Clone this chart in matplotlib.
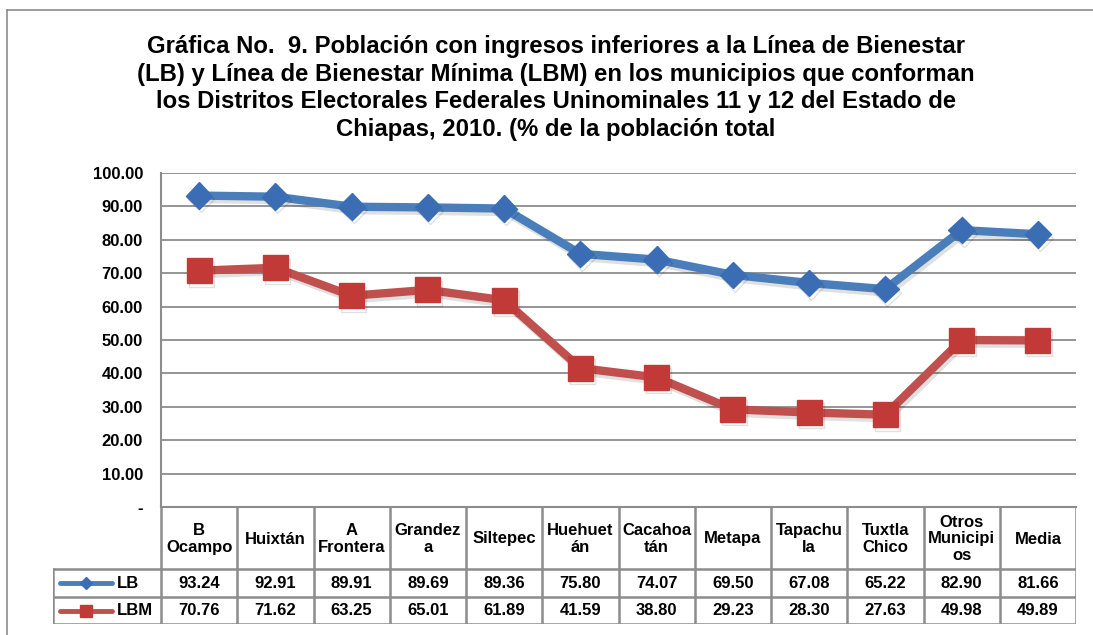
import matplotlib
matplotlib.use("Agg")
import matplotlib.pyplot as plt
import matplotlib.patheffects as pe
from matplotlib.lines import Line2D

plt.rcParams["font.family"] = ["Liberation Sans", "DejaVu Sans"]
plt.rcParams["font.weight"] = "bold"

TITLE = ("Gráfica No.  9. Población con ingresos inferiores a la Línea de Bienestar\n"
         "(LB) y Línea de Bienestar Mínima (LBM) en los municipios que conforman\n"
         "los Distritos Electorales Federales Uninominales 11 y 12 del Estado de\n"
         "Chiapas, 2010. (% de la población total")

municipios = ["B\nOcampo", "Huixtán", "A\nFrontera", "Grandez\na", "Siltepec",
              "Huehuet\nán", "Cacahoa\ntán", "Metapa", "Tapachu\nla", "Tuxtla\nChico",
              "Otros\nMunicipi\nos", "Media"]
lb = [93.24, 92.91, 89.91, 89.69, 89.36, 75.80, 74.07, 69.50, 67.08, 65.22, 82.90, 81.66]
lbm = [70.76, 71.62, 63.25, 65.01, 61.89, 41.59, 38.80, 29.23, 28.30, 27.63, 49.98, 49.89]
yticks = [0, 10, 20, 30, 40, 50, 60, 70, 80, 90, 100]
ytick_labels = ["-"] + [f"{v:.2f}" for v in yticks[1:]]

BLUE_LINE = "#4a7ebb"
BLUE_MARK = "#3a6db4"
RED_LINE = "#c0504d"
RED_MARK = "#c13a37"
GRID = "#8c8c8c"
FS = 12

W, H = 1093, 635
fig = plt.figure(figsize=(W / 100, H / 100), dpi=100)
fig.patch.set_facecolor("white")


def fx(px):
    return px / W


def fy(py):
    return 1 - py / H


# outer chart frame (left and top edges)
fig.add_artist(Line2D([fx(7), fx(7)], [fy(10), 0], color=GRID, lw=1.2))
fig.add_artist(Line2D([fx(7), 1], [fy(10), fy(10)], color=GRID, lw=1.2))

fig.text(fx(556), fy(88), TITLE, ha="center", va="center", fontsize=17.2,
         fontweight="bold", linespacing=1.27)

left, right, top, bottom = 161, 1076, 173, 507
ax = fig.add_axes([fx(left), fy(bottom), (right - left) / W, (bottom - top) / H])
n = len(municipios)
x = list(range(n))
ax.set_xlim(-0.5, n - 0.5)
ax.set_ylim(0, 100)
ax.set_yticks(yticks)
ax.set_yticklabels(ytick_labels, fontsize=FS, fontweight="bold")
ax.tick_params(axis="y", length=0, pad=13)
ax.set_xticks([])
ax.yaxis.grid(True, color=GRID, lw=1.3)
ax.set_axisbelow(True)
for side in ["top", "right"]:
    ax.spines[side].set_visible(False)
for side in ["left", "bottom"]:
    ax.spines[side].set_color(GRID)
    ax.spines[side].set_linewidth(1.5)

shadow = [pe.SimpleLineShadow(offset=(1.5, -2.5), shadow_color="#000000", alpha=0.12),
          pe.Normal()]
ax.plot(x, lb, color=BLUE_LINE, lw=6, marker="D", ms=13.5, mfc=BLUE_MARK,
        mec=BLUE_MARK, solid_joinstyle="round", path_effects=shadow, zorder=4)
ax.plot(x, lbm, color=RED_LINE, lw=6, marker="s", ms=18, mfc=RED_MARK,
        mec=RED_MARK, solid_joinstyle="round", path_effects=shadow, zorder=4)

# data table under the plot
tab_left = 53
col_w = (right - left) / n
x0 = -0.5 - (left - tab_left) / col_w
tab = fig.add_axes([fx(tab_left), fy(624), (right - tab_left) / W, (624 - bottom) / H])
tab.set_xlim(x0, n - 0.5)
tab.set_ylim(624 - bottom, 0)
tab.axis("off")

row_h = [0, 62, 90, 117]
kw = dict(color=GRID, lw=1.8, solid_capstyle="projecting")
for yy in row_h[1:]:
    tab.plot([x0, n - 0.5], [yy, yy], **kw)
for i in range(n + 1):
    tab.plot([i - 0.5, i - 0.5], [row_h[0], row_h[-1]], **kw)
tab.plot([x0, x0], [row_h[1], row_h[-1]], **kw)

for i, name in enumerate(municipios):
    tab.text(i, (row_h[0] + row_h[1]) / 2 + 1, name, ha="center", va="center",
             fontsize=FS, fontweight="bold", linespacing=1.15)
for row, (vals, label, lc, mc, mk, ms) in enumerate(
        [(lb, "LB", BLUE_LINE, BLUE_MARK, "D", 6), (lbm, "LBM", RED_LINE, RED_MARK, "s", 8)]):
    yc = (row_h[row + 1] + row_h[row + 2]) / 2
    for i, v in enumerate(vals):
        tab.text(i, yc, f"{v:.2f}", ha="center", va="center", fontsize=FS,
                 fontweight="bold")
    lx0 = x0 + 7 / col_w
    lx1 = x0 + 59 / col_w
    tab.plot([lx0, lx1], [yc, yc], color=lc, lw=3.5, solid_capstyle="round")
    tab.plot([(lx0 + lx1) / 2], [yc], marker=mk, ms=ms, color=mc, ls="none")
    tab.text(x0 + 64 / col_w, yc, label, ha="left", va="center", fontsize=FS,
             fontweight="bold")

fig.savefig("out.png", dpi=100, facecolor="white")
plt.close(fig)
